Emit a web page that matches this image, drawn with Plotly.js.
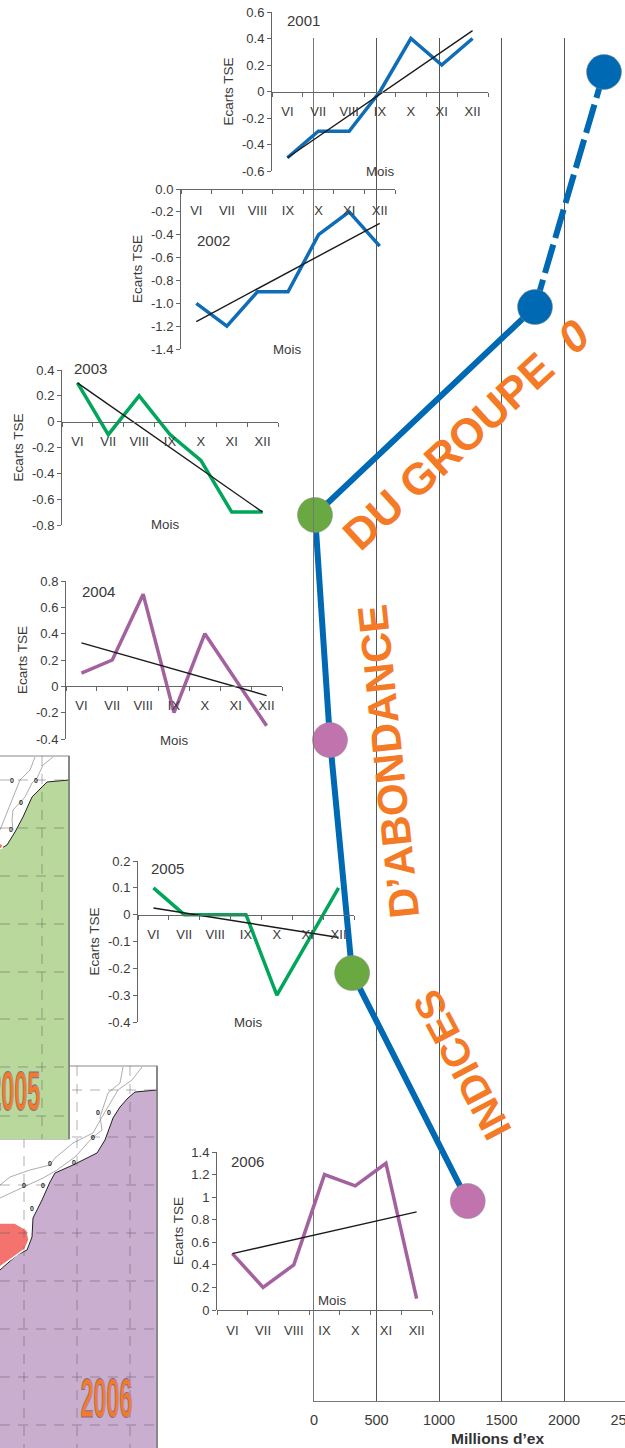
<!DOCTYPE html>
<html><head><meta charset="utf-8">
<style>html,body{margin:0;padding:0;background:#fff;overflow:hidden;width:625px;height:1448px}#c{width:660px;height:1448px}</style>
<script src="https://cdn.plot.ly/plotly-3.0.1.min.js"></script></head><body><div id="c"></div>
<script>
// ---------- data ----------
const months = ['VI','VII','VIII','IX','X','XI','XII'];
const trendEnds = ['VI','XII'];
const v2001 = [-0.5,-0.3,-0.3,0,0.4,0.2,0.4];
const t2001 = [-0.5,0.46];
const v2002 = [-1,-1.2,-0.9,-0.9,-0.4,-0.2,-0.5];
const t2002 = [-1.16,-0.3];
const v2003 = [0.3,-0.1,0.2,-0.1,-0.3,-0.7,-0.7];
const t2003 = [0.3,-0.7];
const v2004 = [0.1,0.2,0.7,-0.2,0.4,0.05,-0.3];
const t2004 = [0.33,-0.07];
const v2005 = [0.1,0,0,0,-0.3,-0.1,0.1];
const t2005 = [0.025,-0.085];
const v2006 = [0.5,0.2,0.4,1.2,1.1,1.3,0.1];
const t2006 = [0.5,0.87];
const yticks2001 = ['0.6','0.4','0.2','0','-0.2','-0.4','-0.6'];
const yticks2002 = ['0.0','-0.2','-0.4','-0.6','-0.8','-1.0','-1.2','-1.4'];
const yticks2003 = ['0.4','0.2','0','-0.2','-0.4','-0.6','-0.8'];
const yticks2004 = ['0.8','0.6','0.4','0.2','0','-0.2','-0.4'];
const yticks2005 = ['0.2','0.1','0','-0.1','-0.2','-0.3','-0.4'];
const yticks2006 = ['1.4','1.2','1','0.8','0.6','0.4','0.2','0'];
// main curve: abundance index (millions) against year position
const mainDashX = [2320,1768];
const mainDashY = [2001,2002.04];
const mainX = [1768,8,128,305,1230];
const mainY = [2002.04,2002.96,2003.956,2004.987,2005.996];
const dotX = [2320,1768,8,128,305,1230];
const dotY = [2001,2002.04,2002.96,2003.956,2004.987,2005.996];
const dotColors = ['#0069b4','#0069b4','#6aa842','#c173ae','#6aa842','#c173ae'];
const mainTicks = [0,500,1000,1500,2000,2500];
// maps (drawn in picture units)
const frame2006X=[0,157,157,0], frame2006Y=[1066,1066,1460,1460];
const land2006X=[157,135,128,120,113,105,97,73,55,50,42,33,32,27,17,0,0,157];
const land2006Y=[1090,1092,1098,1107,1118,1140,1153,1165,1173,1182,1200,1218,1237,1250,1255,1270,1460,1460];
const red2006X=[0,15,27,29,25,12,0];
const red2006Y=[1223,1223,1230,1240,1249,1258,1267];
const bath2006aX=[142,132,118,110,102,93,73,55,50,30,10,0];
const bath2006aY=[1067,1080,1090,1103,1117,1133,1143,1158,1165,1170,1177,1185];
const bath2006bX=[123,120,108,100,102,92,75,57,43,23,0];
const bath2006bY=[1067,1083,1093,1117,1130,1138,1157,1170,1178,1187,1198];
const zero2006X=[98,109,93,50,74,24,43,32];
const zero2006Y=[1113,1113,1138,1164,1163,1186,1186,1209];
const grid2006H=[1090,1137,1185,1233,1281,1329,1377,1425];
const grid2006V=[24,77,130];
const frame2005X=[0,69,69,0], frame2005Y=[756,756,1139,1139];
const land2005X=[69,47,42,32,23,15,7,0,0,69];
const land2005Y=[780,782,787,797,817,832,845,849,1139,1139];
const red2005X=[0,3,2,0], red2005Y=[843,845,848,849];
const bath2005aX=[35,33,30,20,13,8,3,0];
const bath2005aY=[757,763,770,780,797,810,823,830];
const bath2005bX=[53,43,37,32,25,13,12,13];
const bath2005bY=[757,765,778,783,797,810,820,830];
const zero2005X=[12,36,21,11], zero2005Y=[781,781,803,830];
const grid2005H=[780,828,876,924,972,1019,1067,1116];
const grid2005V=[42];

// ---------- layout helpers ----------
const W=660,H=1448,F='"Liberation Sans",Arial,sans-serif',TXT='#3a3a3a',AX='#666';
const px=v=>v/W, py=v=>1-v/H;
const data=[],ann=[];
const layout={width:W,height:H,margin:{l:0,r:0,t:0,b:0,pad:0},paper_bgcolor:'#fff',plot_bgcolor:'rgba(0,0,0,0)',
  showlegend:false,font:{family:F,color:TXT,size:13},annotations:ann,hovermode:false};

// map canvas (first subplot, lowest layer)
layout.xaxis={domain:[0,1],range:[0,W],visible:false,fixedrange:true};
layout.yaxis={domain:[0,1],range:[H,0],visible:false,fixedrange:true};
const poly=(x,y,fill,line,lw)=>data.push({x,y,xaxis:'x',yaxis:'y',mode:'lines',fill:'toself',fillcolor:fill,line:{color:line,width:lw}});
const thin=(x,y)=>data.push({x,y,xaxis:'x',yaxis:'y',mode:'lines',line:{color:'#8a8a8a',width:0.7}});
const zeros=(x,y)=>data.push({x,y,xaxis:'x',yaxis:'y',mode:'text',text:x.map(()=>'0'),textfont:{size:7,color:'#222',family:F,weight:'bold'}});
function dashes(hs,vs,x0,x1,y0,y1){
  const xs=[],ys=[];
  hs.forEach(h=>{xs.push(x0,x1,null);ys.push(h,h,null)});
  vs.forEach(v=>{xs.push(v,v,null);ys.push(y0,y1,null)});
  data.push({x:xs,y:ys,xaxis:'x',yaxis:'y',mode:'lines',line:{color:'rgba(80,80,80,0.45)',width:1,dash:'10px,8px'}});
}
function map(fx,fy,lx,ly,col,rx,ry,ax,ay,bx,by,zx,zy,gh,gv,gx0,gx1,gy0,gy1){
  poly(fx,fy,'#fff','#8a8a8a',1.2);
  poly(lx,ly,col,'rgba(0,0,0,0)',0);
  data.push({x:lx.slice(0,-2),y:ly.slice(0,-2),xaxis:'x',yaxis:'y',mode:'lines',line:{color:'#222',width:1}});
  data.push({x:rx,y:ry,xaxis:'x',yaxis:'y',mode:'lines',fill:'toself',fillcolor:'#f4736f',line:{color:'#fff',width:1.5}});
  thin(ax,ay);thin(bx,by);
  dashes(gh,gv,gx0,gx1,gy0,gy1);
  zeros(zx,zy);
  data.push({x:[fx[1],fx[2]],y:[fy[1],fy[2]],xaxis:'x',yaxis:'y',mode:'lines',line:{color:'#777',width:1.5}});
}
map(frame2006X,frame2006Y,land2006X,land2006Y,'#caaecf',red2006X,red2006Y,bath2006aX,bath2006aY,bath2006bX,bath2006bY,zero2006X,zero2006Y,grid2006H,grid2006V,0,157,1066,1448);
map(frame2005X,frame2005Y,land2005X,land2005Y,'#b9d99c',red2005X,red2005Y,bath2005aX,bath2005aY,bath2005bX,bath2005bY,zero2005X,zero2005Y,grid2005H,grid2005V,0,69,756,1139);

// main chart
const Y_TOP=2001+(38-72)/226, Y_BOT=2001+(1401-72)/226;
layout.xaxis2={domain:[px(314),1],range:[0,(W-314)/0.125],anchor:'y2',tickvals:mainTicks,ticktext:mainTicks.map(String),
  ticks:'',showgrid:true,gridcolor:'#555',gridwidth:1,zeroline:false,showline:true,linecolor:'#777',linewidth:1.2,
  tickfont:{size:14.5,color:TXT,family:F},ticklabelstandoff:5,fixedrange:true};
layout.yaxis2={domain:[py(1401),py(38)],range:[Y_BOT,Y_TOP],anchor:'x2',showgrid:false,zeroline:false,showline:true,linecolor:'#777',linewidth:1.2,
  showticklabels:false,ticks:'',fixedrange:true};
data.push({x:mainDashX,y:mainDashY,xaxis:'x2',yaxis:'y2',mode:'lines',line:{color:'#0069b4',width:6,dash:'27px,7px,29.5px,7px,29.5px,7px,29.5px,7px,29.5px,7px,29.5px,7px,29.5px,7px,60px'},cliponaxis:false});
data.push({x:mainX,y:mainY,xaxis:'x2',yaxis:'y2',mode:'lines',line:{color:'#0069b4',width:6},cliponaxis:false});
data.push({x:dotX,y:dotY,xaxis:'x2',yaxis:'y2',mode:'markers',marker:{size:35,color:dotColors,line:{color:'#8a8a8a',width:0.5}},cliponaxis:false});

// insets
function inset(n,yr,cfg,vals,trend,yt,col){
  const ax='xaxis'+n, ay='yaxis'+n, xid='x'+n, yid='y'+n;
  const tv=yt.map(Number);
  const top=tv[0],bot=tv[tv.length-1];
  const y0px=cfg.top+(top-0)/(top-bot)*(cfg.bot-cfg.top);
  layout[ax]={domain:[px(cfg.l),px(cfg.r)],anchor:'free',position:py(y0px),type:'category',categoryarray:months,categoryorder:'array',
    range:[-0.5,6.5],tickson:'boundaries',ticks:'outside',ticklen:4,tickcolor:AX,showline:true,linecolor:AX,linewidth:1,showgrid:false,zeroline:false,
    tickfont:{size:13,color:TXT,family:F},ticklabelstandoff:cfg.so,tickangle:0,fixedrange:true};
  layout[ay]={domain:[py(cfg.bot),py(cfg.top)],range:[bot,top],anchor:xid,tickvals:tv,ticktext:yt,ticks:'outside',ticklen:4,tickcolor:AX,
    showline:true,linecolor:AX,linewidth:1,showgrid:false,zeroline:false,tickfont:{size:13,color:TXT,family:F},
    title:{text:'Ecarts TSE',font:{size:13.5,color:TXT,family:F},standoff:4.5},fixedrange:true};
  data.push({x:months,y:vals,xaxis:xid,yaxis:yid,mode:'lines',line:{color:col,width:3.5,shape:'linear'},cliponaxis:false,name:String(yr)});
  data.push({x:trendEnds,y:trend,xaxis:xid,yaxis:yid,mode:'lines',line:{color:'#1a1a1a',width:1.4},cliponaxis:false,name:'Tendance '+yr});
  ann.push(textAt(cfg.yx,cfg.yy,String(yr),15));
  ann.push(textAt(cfg.mx,cfg.my,'Mois',13.3));
}
function textAt(x,y,text,size,extra){
  return Object.assign({xref:'paper',yref:'paper',x:px(x),y:py(y),xanchor:'center',yanchor:'middle',showarrow:false,text,
    font:{size,color:TXT,family:F}},extra||{});
}
const BLUE='#0f6cb6',GREEN='#00a65a',PURP='#a4619f';
inset(3,2001,{l:272,r:488,top:12,bot:171,so:8,yx:303,yy:20,mx:380,my:171},v2001,t2001,yticks2001,BLUE);
inset(4,2002,{l:181,r:395,top:189,bot:349,so:9,yx:213,yy:240,mx:287,my:349},v2002,t2002,yticks2002,BLUE);
inset(5,2003,{l:62,r:278,top:370,bot:525,so:8,yx:90,yy:368,mx:165,my:525},v2003,t2003,yticks2003,GREEN);
inset(6,2004,{l:66,r:282,top:581,bot:739,so:7,yx:98,yy:591,mx:174,my:740},v2004,t2004,yticks2004,PURP);
inset(7,2005,{l:138,r:354,top:861,bot:1022,so:8,yx:168,yy:868,mx:248,my:1022},v2005,t2005,yticks2005,GREEN);
inset(8,2006,{l:217,r:432,top:1152,bot:1310,so:8,yx:248,yy:1161,mx:332,my:1300},v2006,t2006,yticks2006,PURP);

// free text
ann.push(textAt(497,1438,'Millions d\u2019ex',15.5,{font:{size:15.5,color:'#333',family:F,weight:'bold'}}));
const ORANGE='#f47a26';
const big=(x,y,t,s,a)=>ann.push(textAt(x,y,t,s,{textangle:a,font:{size:s,color:ORANGE,family:F,weight:'bold'}}));
big(466,434,'DU GROUPE&nbsp;&nbsp;<i>0</i>',44,-42.5);
big(388,762,'D\u2019ABONDANCE',42,-96);
big(462,1065,'INDICES',40,-118);
const stamp=(x,y,t)=>ann.push(textAt(x,y,t,30,{font:{size:30,color:ORANGE,family:'"Liberation Sans Narrow",'+F,weight:'bold'}}));
stamp(14,1090,'2005');
stamp(106,1397,'2006');

Plotly.newPlot('c',data,layout,{staticPlot:true,displayModeBar:false}).then(()=>{
  // map stamps are tall narrow outlined numerals (the 30 px annotations only)
  document.querySelectorAll('#c .annotation-text').forEach(t=>{
    if(parseFloat(t.style.fontSize)===30){
      const b=t.getBBox(),cx=b.x+b.width/2,cy=b.y+b.height/2,sx=52/b.width,sy=48/(b.height*0.78);
      t.setAttribute('transform','translate('+cx+','+cy+') scale('+sx+','+sy+') translate('+(-cx)+','+(-cy)+')');
      t.style.stroke='#7d6e9a';t.style.strokeWidth='0.5px';
    }
  });
});
</script></body></html>
